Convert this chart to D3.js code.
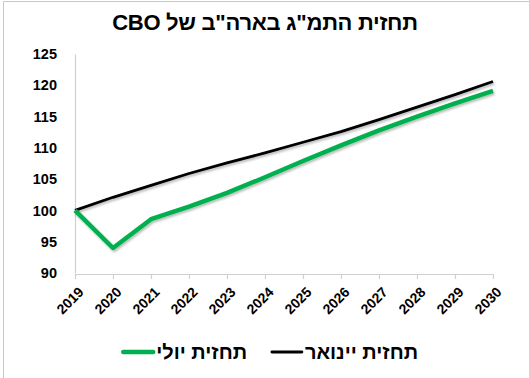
<!DOCTYPE html>
<html>
<head>
<meta charset="utf-8">
<script src="https://cdn.jsdelivr.net/npm/d3@7"></script>
<style>
  body { margin: 0; background: #fff; }
  svg text { font-family: "Liberation Sans", Arial, sans-serif; font-weight: 700; fill: #000; }
</style>
</head>
<body>
<div id="chart"></div>
<script>
// data
var years = [2019, 2020, 2021, 2022, 2023, 2024, 2025, 2026, 2027, 2028, 2029, 2030];
var januaryForecast = [100, 102.1, 104.0, 105.9, 107.6, 109.2, 110.9, 112.6, 114.5, 116.5, 118.5, 120.6];
var julyForecast = [100, 94.0, 98.6, 100.6, 102.8, 105.3, 107.9, 110.4, 112.8, 115.0, 117.1, 119.1];
var yTicks = [90, 95, 100, 105, 110, 115, 120, 125];
var titleText = "תחזית התמ\"ג בארה\"ב של CBO";
var seriesNames = ["תחזית יינואר", "תחזית יולי"];

var width = 529, height = 378;
var margin = { top: 54, right: 36, bottom: 105, left: 75 };

var svg = d3.select("#chart")
  .append("svg")
  .attr("width", width)
  .attr("height", height);

// shadow like the office chart
var defs = svg.append("defs");
defs.append("filter")
  .attr("id", "shadow")
  .attr("x", "-10%").attr("y", "-10%")
  .attr("width", "120%").attr("height", "130%")
  .append("feDropShadow")
  .attr("dx", 1.2).attr("dy", 1.8)
  .attr("stdDeviation", 1)
  .attr("flood-color", "#000")
  .attr("flood-opacity", 0.28);

// frame
svg.append("path")
  .attr("d", "M3.5," + (height + 2) + "V1.5H" + (width + 2))
  .attr("fill", "none")
  .attr("stroke", "#c8c8c8")
  .attr("stroke-width", 1);

// title
svg.append("text")
  .attr("x", 265)
  .attr("y", 30)
  .attr("text-anchor", "middle")
  .attr("direction", "rtl")
  .style("font-size", "22px")
  .style("letter-spacing", "-0.3px")
  .text(titleText);

var x = d3.scaleLinear()
  .domain([years[0], years[years.length - 1]])
  .range([margin.left, width - margin.right]);

var y = d3.scaleLinear()
  .domain([90, 125])
  .range([height - margin.bottom, margin.top]);

// y axis
var yAxis = svg.append("g")
  .attr("transform", "translate(" + margin.left + ",0)")
  .call(d3.axisLeft(y).tickValues(yTicks).tickSize(0).tickPadding(18));
yAxis.select(".domain").attr("stroke", "#d0d0d0").attr("stroke-width", 1.2);
yAxis.selectAll("text")
  .attr("font-family", null)
  .style("font-size", "14.5px")
  .style("font-weight", "bold");

// x axis
var xAxis = svg.append("g")
  .attr("transform", "translate(0," + (height - margin.bottom + 1) + ")")
  .call(d3.axisBottom(x).tickValues(years).tickFormat(d3.format("d")).tickSize(5).tickSizeOuter(0));
xAxis.select(".domain").attr("stroke", "#d0d0d0").attr("stroke-width", 1.2);
xAxis.selectAll(".tick line").attr("stroke", "#d0d0d0").attr("stroke-width", 1.2);
xAxis.selectAll("text")
  .attr("font-family", null)
  .style("font-size", "14px")
  .style("font-weight", "bold")
  .attr("text-anchor", "end")
  .attr("dy", null)
  .attr("y", 0)
  .attr("transform", "translate(9,19) rotate(-45)");

// lines
var line = d3.line()
  .x(function(d, i) { return x(years[i]); })
  .y(function(d) { return y(d); });

svg.append("path")
  .datum(januaryForecast)
  .attr("fill", "none")
  .attr("stroke", "#000")
  .attr("stroke-width", 2.8)
  .attr("stroke-linejoin", "round")
  .attr("filter", "url(#shadow)")
  .attr("d", line);

svg.append("path")
  .datum(julyForecast)
  .attr("fill", "none")
  .attr("stroke", "#00b050")
  .attr("stroke-width", 4.4)
  .attr("stroke-linejoin", "round")
  .attr("filter", "url(#shadow)")
  .attr("d", line);

// legend: text right edge, line to its left
var legend = [
  { name: seriesNames[0], color: "#000", w: 2.8, right: 418 },
  { name: seriesNames[1], color: "#00b050", w: 4.4, right: 247 }
];
legend.forEach(function(d) {
  var g = svg.append("g").attr("class", "legend");
  var t = g.append("text")
    .attr("x", d.right)
    .attr("y", 359)
    .attr("text-anchor", "end")
    .style("font-size", "20px")
    .text(d.name);
  var left = d.right - t.node().getComputedTextLength();
  g.append("line")
    .attr("x1", left - 33)
    .attr("x2", left - 3)
    .attr("y1", 352).attr("y2", 352)
    .attr("stroke", d.color)
    .attr("stroke-width", d.w)
    .attr("stroke-linecap", "round");
});
</script>
</body>
</html>
